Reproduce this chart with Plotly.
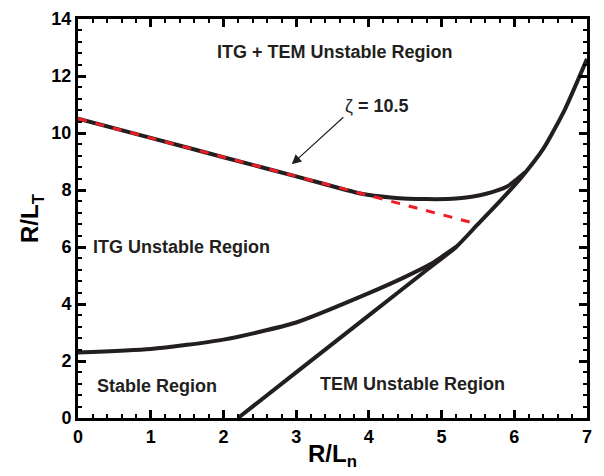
import plotly.graph_objects as go

# Data
upper_x = [0.0, 1.0, 2.0, 3.0, 3.9, 4.3, 4.8, 5.2, 5.6, 5.9, 6.15]
upper_y = [10.5, 9.83, 9.15, 8.48, 7.87, 7.74, 7.68, 7.7, 7.86, 8.12, 8.62]

tem_x = [2.2, 3.0, 4.0, 4.8, 5.2, 5.5, 5.8, 6.1, 6.4, 6.7, 7.0]
tem_y = [0.0, 1.6, 3.6, 5.2, 6.0, 6.8, 7.6, 8.45, 9.45, 10.85, 12.6]

lower_x = [0.0, 1.0, 2.0, 3.0, 4.0, 4.5, 4.85, 5.2]
lower_y = [2.3, 2.42, 2.75, 3.35, 4.38, 4.95, 5.4, 6.0]

zeta_x = [0.0, 5.5]
zeta_y = [10.5, 6.8]

labels = ["ITG + TEM Unstable Region", "ITG Unstable Region", "Stable Region", "TEM Unstable Region"]
label_x = [3.53, 1.43, 1.09, 4.6]
label_y = [12.85, 6.0, 1.13, 1.2]

FONT = "Liberation Sans, Arial, sans-serif"
INK = "#231f20"

fig = go.Figure()
for xs, ys in [(upper_x, upper_y), (tem_x, tem_y), (lower_x, lower_y)]:
    fig.add_trace(go.Scatter(x=xs, y=ys, mode="lines",
                             line=dict(color=INK, width=4, shape="spline", smoothing=0.6),
                             showlegend=False, hoverinfo="skip"))
fig.add_trace(go.Scatter(x=zeta_x, y=zeta_y, mode="lines",
                         line=dict(color="#ee1c24", width=3, dash="dash"),
                         showlegend=False, hoverinfo="skip"))

for t, x, y in zip(labels, label_x, label_y):
    fig.add_annotation(x=x, y=y, text=t, showarrow=False,
                       font=dict(family=FONT, size=18, color=INK, weight="bold"))

fig.add_annotation(x=4.11, y=10.96, text="ζ <b>= 10.5</b>", showarrow=False,
                   font=dict(family=FONT, size=18, color=INK))
fig.add_annotation(x=2.94, y=8.9, ax=3.67, ay=10.6, axref="x", ayref="y",
                   text="", showarrow=True, arrowhead=2, arrowsize=1.6,
                   arrowwidth=1.2, arrowcolor=INK)

fig.update_xaxes(range=[0, 7], dtick=1, tick0=0, showline=True, linewidth=3, linecolor="black", mirror="allticks",
                 ticks="inside", ticklen=8, tickwidth=2.5, tickcolor="black", showgrid=False, zeroline=False,
                 tickfont=dict(family=FONT, size=18, color="black", weight="bold"),
                 minor=dict(ticks="inside", ticklen=4, dtick=0.2, tick0=0, tickcolor="black", tickwidth=2, showgrid=False),
                 title=dict(text="R/L<sub>n</sub>", standoff=0,
                            font=dict(family=FONT, size=24, color="black", weight="bold")))
fig.update_yaxes(range=[0, 14], dtick=2, tick0=0, showline=True, linewidth=3, linecolor="black", mirror="allticks",
                 ticks="inside", ticklen=8, tickwidth=2.5, tickcolor="black", showgrid=False, zeroline=False,
                 tickfont=dict(family=FONT, size=18, color="black", weight="bold"),
                 minor=dict(ticks="inside", ticklen=4, dtick=0.4, tick0=0, tickcolor="black", tickwidth=2, showgrid=False),
                 title=dict(text="R/L<sub>T</sub>", standoff=6,
                            font=dict(family=FONT, size=24, color="black", weight="bold")))

fig.update_layout(width=604, height=476, margin=dict(l=78, r=17, t=9, b=58),
                  plot_bgcolor="white", paper_bgcolor="white")

fig.write_html("out.html")
